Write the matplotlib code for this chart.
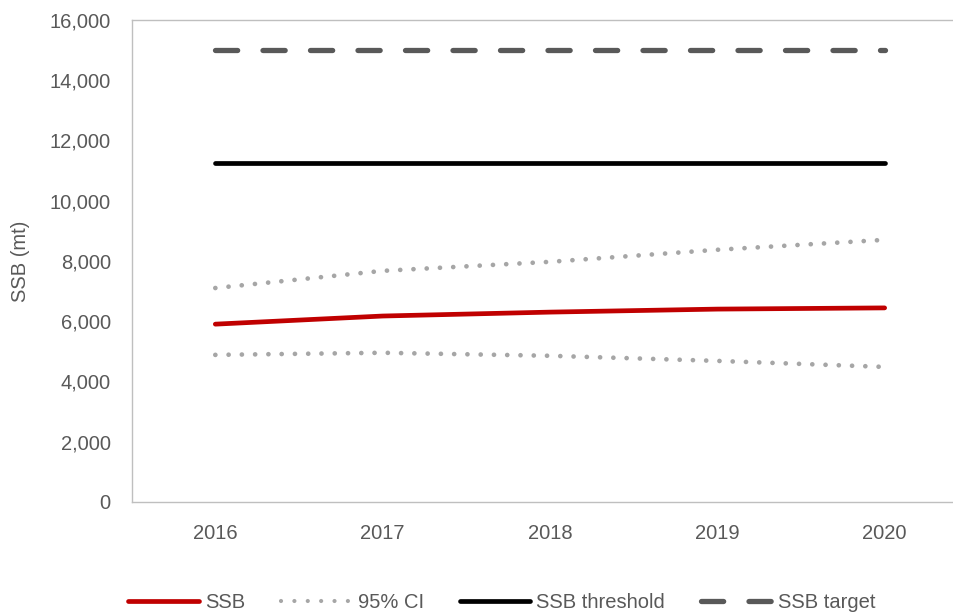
import matplotlib
matplotlib.use("Agg")
import matplotlib.pyplot as plt
from matplotlib.lines import Line2D
from matplotlib.ticker import FuncFormatter

# Projected spawning stock biomass (metric tons)
years = ["2016", "2017", "2018", "2019", "2020"]
ssb = [5900, 6170, 6300, 6400, 6440]
ci_upper = [7100, 7670, 7970, 8370, 8700]
ci_lower = [4880, 4950, 4850, 4680, 4480]
ssb_threshold = [11250] * 5
ssb_target = [15000] * 5

yticks = [0, 2000, 4000, 6000, 8000, 10000, 12000, 14000, 16000]

plt.rcParams["font.family"] = ["Liberation Sans", "DejaVu Sans"]
text_color = "#595959"
fs = 14.5

fig = plt.figure(figsize=(9.54, 6.15), dpi=100)
ax = fig.add_axes([0.138, 0.184, 0.877, 0.7835])

x = list(range(len(years)))

red, grey_ci, grey_tgt = "#C00000", "#A6A6A6", "#595959"
dotted = (0, (0.01, 2.8))
dashed = (0, (4.2, 4.8))

ax.plot(x, ssb, color=red, lw=3.4, solid_capstyle="round", zorder=4)
ax.plot(x, ci_upper, color=grey_ci, lw=3.4, linestyle=dotted,
        dash_capstyle="round", zorder=3)
ax.plot(x, ci_lower, color=grey_ci, lw=3.4, linestyle=dotted,
        dash_capstyle="round", zorder=3)
ax.plot(x, ssb_threshold, color="#000000", lw=3.4, solid_capstyle="round", zorder=3)
ax.plot(x, ssb_target, color=grey_tgt, lw=3.8, linestyle=dashed,
        dash_capstyle="round", zorder=3)

ax.set_xlim(-0.5, len(years) - 0.5)
ax.set_ylim(0, 16000)
ax.set_xticks(x)
ax.set_xticklabels(years)
ax.set_yticks(yticks)
ax.yaxis.set_major_formatter(FuncFormatter(lambda v, p: f"{int(v):,}"))
ax.tick_params(axis="both", length=0, labelsize=fs, colors=text_color)
ax.tick_params(axis="x", pad=16)
ax.tick_params(axis="y", pad=15)

for side in ["left", "bottom", "top", "right"]:
    ax.spines[side].set_color("#BFBFBF")
    ax.spines[side].set_linewidth(1.0)

ax.set_ylabel("SSB (mt)", fontsize=fs, color=text_color, labelpad=14)

# Legend keys; the CI key uses slightly finer dots than the plotted band
handles = [
    Line2D([], [], color=red, lw=3.4, solid_capstyle="round"),
    Line2D([], [], color=grey_ci, lw=3.0, linestyle=(0, (0.01, 3.2)), dash_capstyle="round"),
    Line2D([], [], color="#000000", lw=3.4, solid_capstyle="round"),
    Line2D([], [], color=grey_tgt, lw=3.8, linestyle=dashed, dash_capstyle="round"),
]
labels = ["SSB", "95% CI", "SSB threshold", "SSB target"]
leg = fig.legend(handles, labels, loc="center", bbox_to_anchor=(0.526, 0.021), ncol=4,
                 frameon=False, fontsize=fs, handlelength=3.5, handletextpad=0.3,
                 columnspacing=1.8)
for t in leg.get_texts():
    t.set_color(text_color)

fig.savefig("out.png", dpi=100)
